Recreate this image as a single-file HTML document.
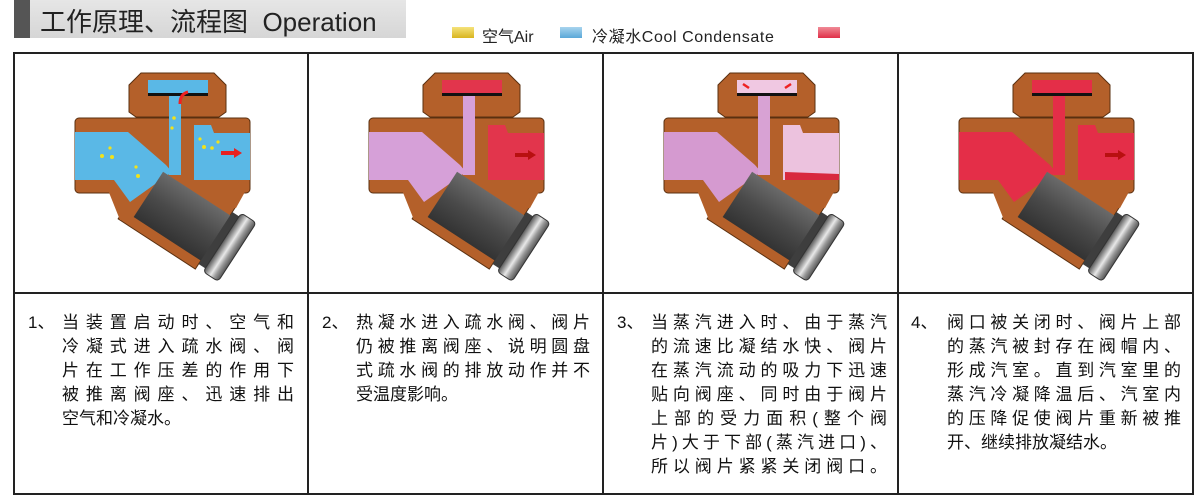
<!DOCTYPE html>
<html><head><meta charset="utf-8"><style>
*{margin:0;padding:0;box-sizing:border-box}
body{width:1200px;height:496px;background:#fff;position:relative;overflow:hidden;font-family:"Liberation Sans","Noto Sans CJK SC",sans-serif;color:#111}
.hdr{position:absolute;left:14px;top:0;width:392px;height:38px;background:linear-gradient(#e6e6e6,#d6d6d6);}
.hdr .bar{position:absolute;left:0;top:0;width:16px;height:38px;background:#555}
.hdr .t{position:absolute;left:26px;top:2px;font-size:26px;color:#222;white-space:nowrap}
.leg{position:absolute;top:23px;font-size:16px;color:#222;white-space:nowrap}
.sw{position:absolute;top:27px;width:22px;height:11px}
.txt{position:absolute;top:311px;font-size:17px;line-height:24px}
.num{position:absolute;top:311px;font-size:17px;line-height:24px}
.txt div{text-align:justify;text-align-last:justify;white-space:nowrap;height:24px}
.txt div.l{text-align-last:left}
</style></head><body>
<div class="hdr"><div class="bar"></div><div class="t">工作原理、流程图&nbsp;&nbsp;Operation</div></div>
<div class="sw" style="left:452px;background:linear-gradient(#f5e27a,#d8b520)"></div>
<div class="leg" style="left:482px">空气Air</div>
<div class="sw" style="left:560px;background:linear-gradient(#a8d4ee,#5aa8d8)"></div>
<div class="leg" style="left:592px;letter-spacing:0.6px">冷凝水Cool Condensate</div>
<div class="sw" style="left:818px;background:linear-gradient(#f08a96,#e03048)"></div>

<svg width="1200" height="496" style="position:absolute;left:0;top:0">
<defs>
<linearGradient id="pg" x1="0" y1="0" x2="0" y2="1"><stop offset="0" stop-color="#6a6a6a"/><stop offset=".5" stop-color="#4a4a4a"/><stop offset="1" stop-color="#333"/></linearGradient>
<linearGradient id="cg" x1="0" y1="0" x2="1" y2="0"><stop offset="0" stop-color="#555"/><stop offset=".45" stop-color="#e8e8e8"/><stop offset=".7" stop-color="#999"/><stop offset="1" stop-color="#555"/></linearGradient>
<g id="body">
 <g transform="translate(183,226) rotate(33)"><rect x="-70" y="-37" width="92" height="74" fill="#b4602a" stroke="#5a3010"/></g>
 <polygon points="115,85 127,73 200,73 212,85 212,112 205,117 122,117 115,112" fill="#b4602a" stroke="#5a3010"/>
 <rect x="61" y="118" width="175" height="75" rx="4" fill="#b4602a" stroke="#5a3010"/>
 <polygon points="94,190 232,190 222,208 106,220" fill="#b4602a"/>
</g>
<g id="plug" transform="translate(183,226) rotate(33)">
 <rect x="-58" y="-27" width="84" height="54" fill="url(#pg)"/>
 <rect x="22" y="-31" width="9" height="62" fill="#3e3e3e"/>
 <rect x="30" y="-35" width="18" height="70" rx="4" fill="url(#cg)" stroke="#333"/>
</g>
</defs>

<rect x="14" y="53" width="1179" height="441" fill="none" stroke="#222" stroke-width="2"/>
<line x1="14" y1="293" x2="1193" y2="293" stroke="#222" stroke-width="2"/>
<line x1="308" y1="53" x2="308" y2="494" stroke="#222" stroke-width="2"/>
<line x1="603" y1="53" x2="603" y2="494" stroke="#222" stroke-width="2"/>
<line x1="898" y1="53" x2="898" y2="494" stroke="#222" stroke-width="2"/>

<g transform="translate(14,0)">
 <use href="#body"/>
 <polygon points="61,132 114,132 152,165 158,172 116,202 100,180 61,180" fill="#5ab8e6"/>
 <rect x="155" y="92" width="12" height="83" fill="#5ab8e6"/>
 <rect x="134" y="80" width="60" height="14" fill="#5ab8e6"/>
 <polygon points="180,125 197,125 200,133 236,133 236,180 180,180" fill="#5ab8e6"/>
 <rect x="134" y="93" width="60" height="3" fill="#111"/>
 <path d="M166,104 Q166,94 174,92" stroke="#e22" stroke-width="3" fill="none"/>
 <g fill="#f2e21a"><circle cx="88" cy="156" r="2"/><circle cx="96" cy="148" r="1.6"/><circle cx="98" cy="157" r="2"/><circle cx="122" cy="167" r="1.6"/><circle cx="124" cy="176" r="2"/><circle cx="160" cy="118" r="1.8"/><circle cx="158" cy="128" r="1.6"/><circle cx="186" cy="139" r="1.6"/><circle cx="190" cy="147" r="2"/><circle cx="198" cy="148" r="1.8"/><circle cx="204" cy="142" r="1.6"/></g>
 <use href="#plug"/>
 <path d="M207,153 H222" stroke="#e82020" stroke-width="4"/><polygon points="220,148 228,153 220,158" fill="#e82020"/>
</g>
<g transform="translate(308,0)">
 <use href="#body"/>
 <polygon points="61,132 114,132 152,165 158,172 116,202 100,180 61,180" fill="#d6a0d8"/>
 <rect x="155" y="92" width="12" height="83" fill="#d6a0d8"/>
 <rect x="134" y="80" width="60" height="14" fill="#e2354c"/>
 <polygon points="180,125 197,125 200,133 236,133 236,180 180,180" fill="#e2354c"/>
 <rect x="134" y="93" width="60" height="3" fill="#111"/>
 <use href="#plug"/>
 <path d="M207,155 H222" stroke="#b81010" stroke-width="4"/><polygon points="220,150 228,155 220,160" fill="#b81010"/>
</g>
<g transform="translate(603,0)">
 <use href="#body"/>
 <polygon points="61,132 114,132 152,165 158,172 116,202 100,180 61,180" fill="#d59ad0"/>
 <rect x="155" y="92" width="12" height="83" fill="#d8a2d4"/>
 <rect x="134" y="80" width="60" height="14" fill="#f0c8e2"/>
 <polygon points="180,125 197,125 200,133 236,133 236,180 180,180" fill="#ecc2de"/>
 <polygon points="182,172 236,174 236,180 182,180" fill="#d8283e"/>
 <rect x="134" y="93" width="60" height="3" fill="#111"/>
 <path d="M140,84 l6,4 M188,84 l-6,4" stroke="#e22" stroke-width="2.5"/>
 <use href="#plug"/>
</g>
<g transform="translate(898,0)">
 <use href="#body"/>
 <polygon points="61,132 114,132 152,165 158,172 116,202 100,180 61,180" fill="#e42e48"/>
 <rect x="155" y="92" width="12" height="83" fill="#e42e48"/>
 <rect x="134" y="80" width="60" height="14" fill="#e42e48"/>
 <polygon points="180,125 197,125 200,133 236,133 236,180 180,180" fill="#e42e48"/>
 <rect x="134" y="93" width="60" height="3" fill="#111"/>
 <use href="#plug"/>
 <path d="M207,155 H222" stroke="#b81010" stroke-width="4"/><polygon points="220,150 228,155 220,160" fill="#b81010"/>
</g>
</svg>

<div class="num" style="left:28px">1、</div>
<div class="txt" style="left:62px;width:232px">
<div>当装置启动时、空气和</div><div>冷凝式进入疏水阀、阀</div><div>片在工作压差的作用下</div><div>被推离阀座、迅速排出</div><div class="l">空气和冷凝水。</div></div>

<div class="num" style="left:322px">2、</div>
<div class="txt" style="left:356px;width:234px">
<div>热凝水进入疏水阀、阀片</div><div>仍被推离阀座、说明圆盘</div><div>式疏水阀的排放动作并不</div><div class="l">受温度影响。</div></div>

<div class="num" style="left:617px">3、</div>
<div class="txt" style="left:651px;width:236px">
<div>当蒸汽进入时、由于蒸汽</div><div>的流速比凝结水快、阀片</div><div>在蒸汽流动的吸力下迅速</div><div>贴向阀座、同时由于阀片</div><div>上部的受力面积(整个阀</div><div>片)大于下部(蒸汽进口)、</div><div>所以阀片紧紧关闭阀口。</div></div>

<div class="num" style="left:911px">4、</div>
<div class="txt" style="left:947px;width:234px">
<div>阀口被关闭时、阀片上部</div><div>的蒸汽被封存在阀帽内、</div><div>形成汽室。直到汽室里的</div><div>蒸汽冷凝降温后、汽室内</div><div>的压降促使阀片重新被推</div><div class="l">开、继续排放凝结水。</div></div>
</body></html>
